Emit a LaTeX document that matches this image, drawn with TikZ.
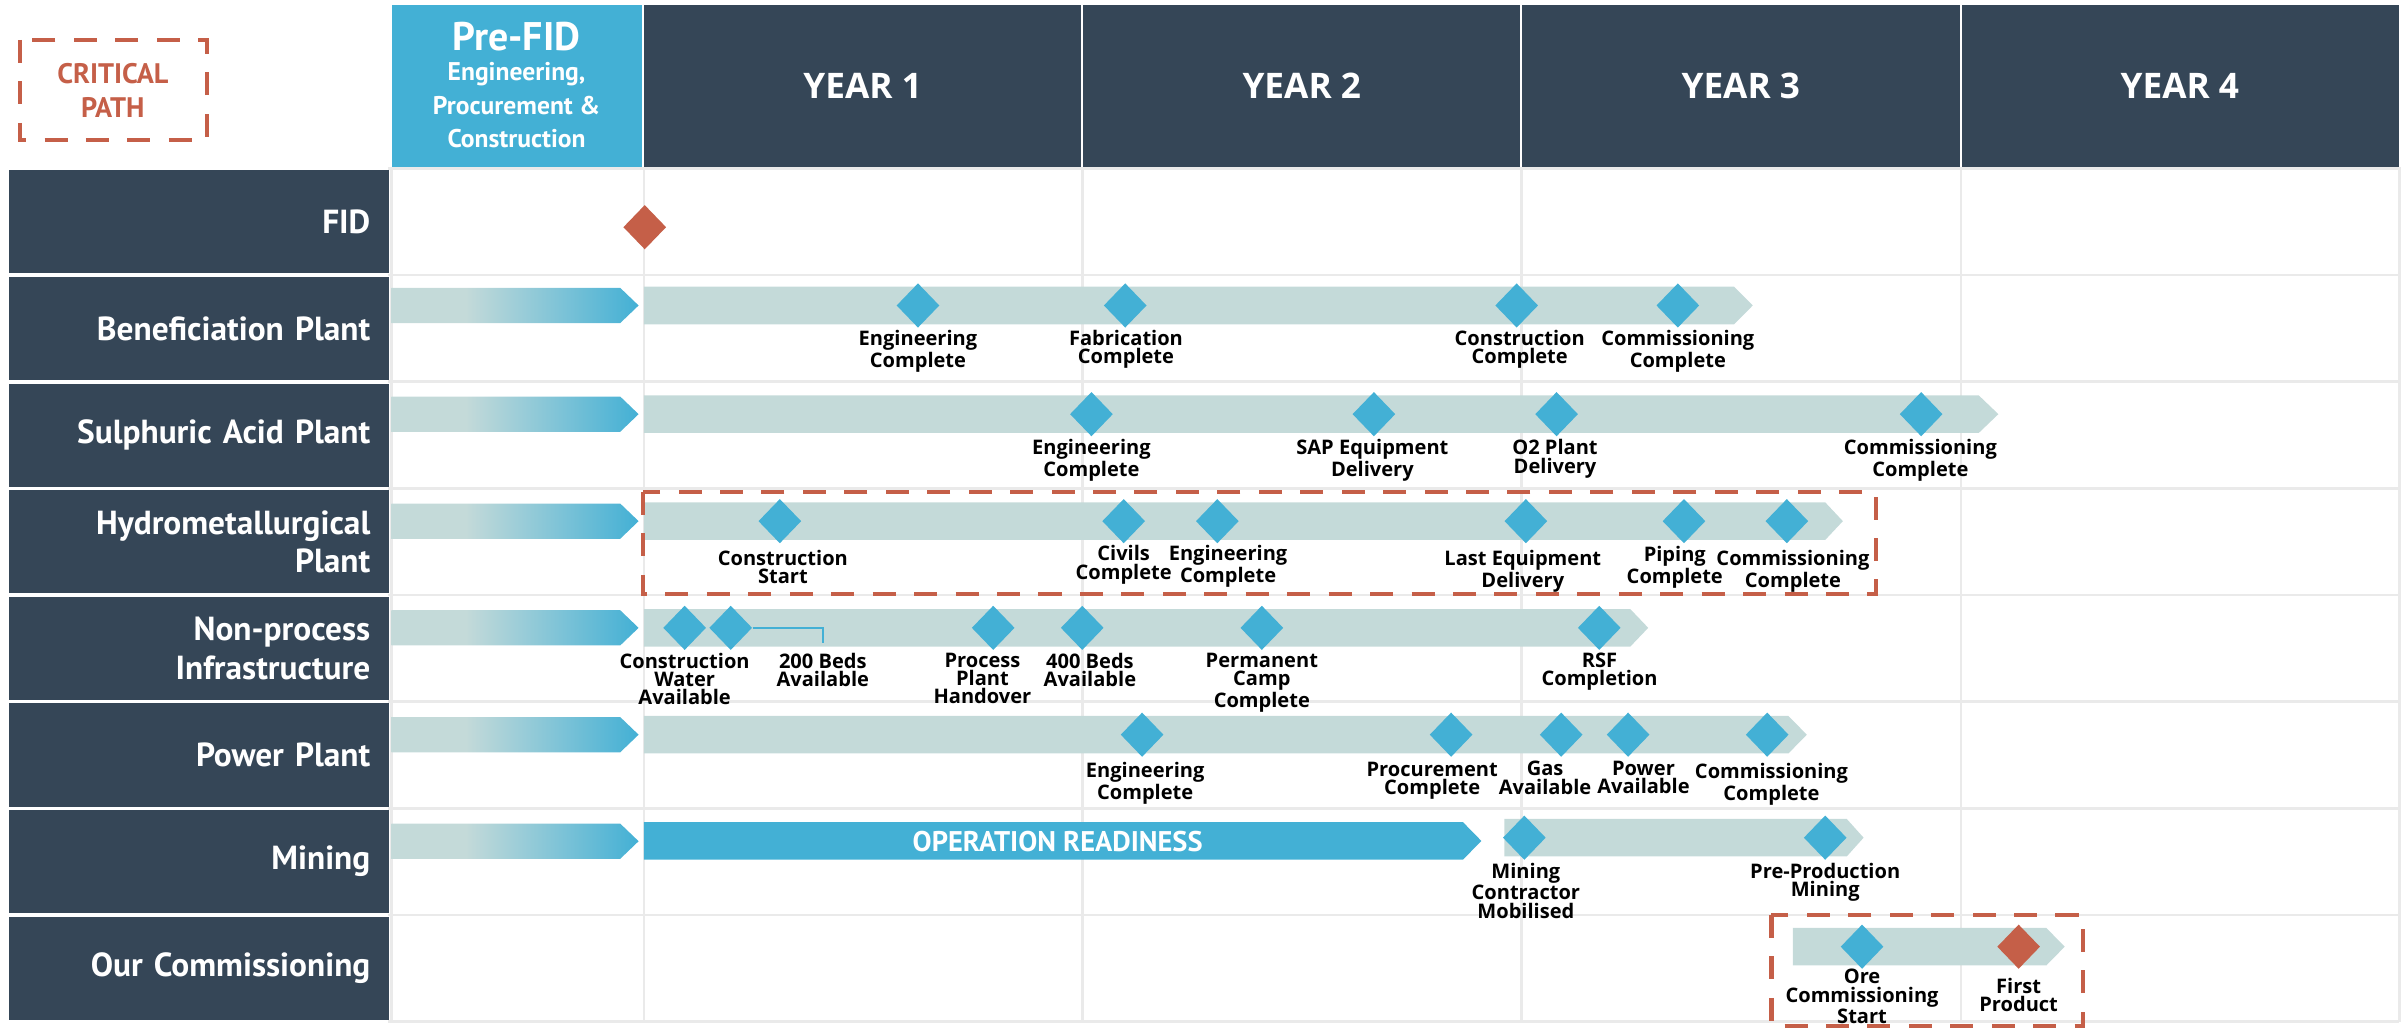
\documentclass[tikz,border=0pt]{standalone}
\usepackage{fontspec}
\setmainfont{Open Sans}
\newfontfamily\ptsans{PT Sans}
\usetikzlibrary{shapes.geometric}
\definecolor{navy}{RGB}{53,70,87}
\definecolor{skyb}{RGB}{67,176,213}
\definecolor{barg}{RGB}{196,218,217}
\definecolor{orng}{RGB}{197,95,72}
\definecolor{gridc}{RGB}{234,234,234}
\pgfdeclarehorizontalshading{prefid}{100bp}{color(0bp)=(barg); color(25bp)=(barg); color(40bp)=(barg); color(75bp)=(skyb); color(100bp)=(skyb)}
\tikzset{
  dia/.style={shape=diamond, fill=skyb, inner sep=0pt, minimum width=21pt, minimum height=21.75pt},
  mslab/.style={font=\bfseries\fontsize{9.8}{9}\selectfont, align=center, inner sep=0pt, anchor=north, text=black},
  rowlab/.style={fill=navy, text=white, font=\ptsans\bfseries\fontsize{16.3}{18.75}\selectfont, align=right, text width=167.6pt, inner xsep=9pt, inner ysep=0pt, minimum height=50.4pt, anchor=north west},
  yearlab/.style={text=white, font=\bfseries\fontsize{17.2}{20}\selectfont},
  crit/.style={draw=orng, line width=2pt, dash pattern=on 11.25pt off 9pt},
  gridln/.style={draw=gridc, line width=1.3pt},
}
\newcommand\ms[7][skyb]{\node[dia,fill=#1] (#2) at (#3,#4) {};\node[mslab] (#2t) at (#5,#6-6) {#7};}
\newcommand\gbar[5][barg]{\fill[#1] (#2,#5-12.25) -- (#3,#5-12.25) -- (#4,#5) -- (#3,#5+12.25) -- (#2,#5+12.25) -- cycle;}
\newcommand\pbar[1]{\shade[shading=prefid] (255,#1-11.5) -- (404,#1-11.5) -- (416,#1) -- (404,#1+11.5) -- (255,#1+11.5) -- cycle;}
\begin{document}
\begin{tikzpicture}[x=0.75pt,y=-0.75pt]
\useasboundingbox (0,0) rectangle (1568,670);
% grid
\foreach \yy in {109.8,179.25,248.7,318.15,387.6,457.05,526.5,595.95,665.4}
  \draw[gridln] (253,\yy) -- (1563,\yy);
\foreach \xx in {255,419.5,705,991,1277.5,1563}
  \draw[gridln] (\xx,108.6) -- (\xx,666);
% header
\draw[crit] (13,26) rectangle (135,91);
\node[text=orng, align=center, font=\ptsans\bfseries\fontsize{13.8}{16.5}\selectfont] (cp) at (73.5,59) {CRITICAL\\PATH};
\node[fill=skyb, minimum width=122pt, minimum height=79pt, inner sep=0pt, anchor=north west] (pf) at (255,3.3) {};
\node[text=white, font=\ptsans\bfseries\fontsize{19.5}{20}\selectfont] (pft) at (336.5,24) {Pre-FID};
\node[text=white, align=center, font=\ptsans\bfseries\fontsize{12.5}{16.5}\selectfont] (pfs) at (336.5,68.5) {Engineering,\\Procurement \&\\Construction};
\fill[navy] (419.3,3.3) rectangle (1563,108.6);
\foreach \xx in {705,991,1277.5}
  \draw[white, line width=1.1pt] (\xx,3.3) -- (\xx,108.6);
\node[yearlab] (y1) at (562,55.8) {YEAR 1};
\node[yearlab] (y2) at (848,55.8) {YEAR 2};
\node[yearlab] (y3) at (1134,55.8) {YEAR 3};
\node[yearlab] (y4) at (1420,55.8) {YEAR 4};
% row labels
\node[rowlab] (rfid) at (5.5,110.7) {FID};
\node[rowlab] (rben) at (5.5,180.15) {Beneficiation Plant};
\node[rowlab] (rsul) at (5.5,249.6) {Sulphuric Acid Plant};
\node[rowlab] (rhyd) at (5.5,319.05) {Hydrometallurgical\\Plant};
\node[rowlab] (rnon) at (5.5,388.5) {Non-process\\Infrastructure};
\node[rowlab] (rpow) at (5.5,457.95) {Power Plant};
\node[rowlab] (rmin) at (5.5,527.4) {Mining};
\node[rowlab] (rcom) at (5.5,596.85) {Our Commissioning};
% pre-FID arrows
\pbar{199}\pbar{269.8}\pbar{339.5}\pbar{409}\pbar{478.6}\pbar{548}
% main bars
\gbar{419.5}{1129.6}{1141.8}{199}
\gbar{419.5}{1289}{1301.8}{269.8}
\gbar{419.5}{1189}{1200.5}{339.5}
\gbar{419.5}{1062}{1073.7}{409}
\gbar{419.5}{1165}{1177}{478.6}
\gbar[skyb]{419.5}{953}{965}{547.8}
\gbar{980}{1203}{1214}{545.7}
\gbar{1168}{1333}{1345}{616.7}
\node[text=white, font=\ptsans\bfseries\fontsize{13.9}{15}\selectfont] (opr) at (689,548) {OPERATION READINESS};
% FID
\node[dia, fill=orng] (fid) at (420,148) {};
% Beneficiation
\ms{b1}{598}{199}{598}{220.8}{Engineering\\Complete}
\ms{b2}{733}{199}{733.5}{220.8}{Fabrication\\Complete}
\ms{b3}{988}{199}{990}{220.8}{Construction\\Complete}
\ms{b4}{1093}{199}{1093}{220.8}{Commissioning\\Complete}
% Sulphuric
\ms{s1}{711}{269.8}{711}{292}{Engineering\\Complete}
\ms{s2}{895}{269.8}{894}{292}{SAP Equipment\\Delivery}
\ms{s3}{1014}{269.8}{1013}{292}{O2 Plant\\Delivery}
\ms{s4}{1251.5}{269.8}{1251}{292}{Commissioning\\Complete}
% Hydromet
\ms{h1}{508}{339.5}{510}{364}{Construction\\Start}
\ms{h2}{732}{339.5}{732}{361}{Civils\\Complete}
\ms{h3}{793}{339.5}{800}{361}{Engineering\\Complete}
\ms{h4}{994}{339.5}{992}{364}{Last Equipment\\Delivery}
\ms{h5}{1097}{339.5}{1091}{361.6}{Piping\\Complete}
\ms{h6}{1164}{339.5}{1168}{364}{Commissioning\\Complete}
% Non-process
\ms{n1}{446}{409}{446}{431}{Construction\\Water\\Available}
\ms{n2}{476}{409}{536}{431}{200 Beds\\Available}
\ms{n3}{647}{409}{640}{431}{Process\\Plant\\Handover}
\ms{n4}{705}{409}{710}{431}{400 Beds\\Available}
\ms{n5}{822}{409}{822}{431}{Permanent\\Camp\\Complete}
\ms{n6}{1041.8}{409}{1042}{431}{RSF\\Completion}
\coordinate (n2c) at (536,419);
\draw[skyb, line width=1pt] (n2.east) -| (n2c);
% Power
\ms{p1}{744}{478.6}{746}{502}{Engineering\\Complete}
\ms{p2}{945.3}{478.6}{933}{502}{Procurement\\Complete}
\ms{p3}{1017}{478.6}{1006.5}{501.6}{Gas\\Available}
\ms{p4}{1060.6}{478.6}{1070.6}{501.6}{Power\\Available}
\ms{p5}{1151.2}{478.6}{1154}{502.7}{Commissioning\\Complete}
% Mining
\ms{m1}{993}{545.7}{994}{568}{Mining\\Contractor\\Mobilised}
\ms{m2}{1189}{545.7}{1189}{568}{Pre-Production\\Mining}
% Commissioning
\ms{c1}{1213}{616.7}{1213}{637}{Ore\\Commissioning\\Start}
\ms[orng]{c2}{1315}{616.7}{1315}{643}{First\\Product}
% critical path boxes
\draw[crit] (419,320.5) rectangle (1222,387);
\draw[crit] (1154,596) rectangle (1357,668.5);
\end{tikzpicture}
\end{document}
